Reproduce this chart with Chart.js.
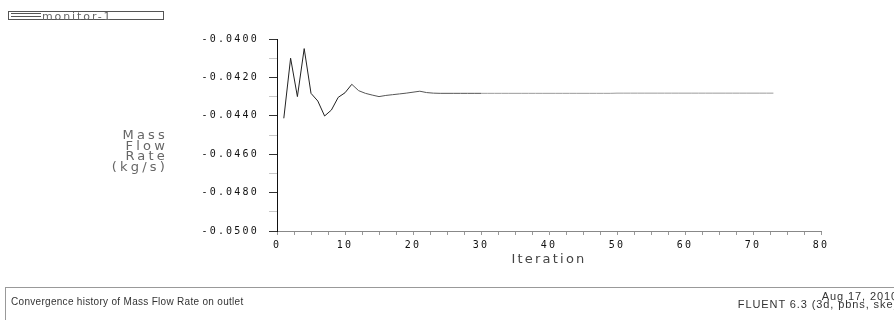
<!DOCTYPE html>
<html>
<head>
<meta charset="utf-8">
<script src="https://cdn.jsdelivr.net/npm/chart.js@4"></script>
<style>
  html, body { margin: 0; padding: 0; background: #fff; overflow: hidden; }
  #wrap { position: relative; width: 894px; height: 320px; font-family: 'DejaVu Sans', sans-serif; }
  #chart { position: absolute; left: 0; top: 0; }
  .legend { position: absolute; left: 8px; top: 11px; width: 154px; height: 7px; border: 1px solid #555; }
  .legend .dbl { position: absolute; left: 2px; top: 1px; width: 30px; height: 2px; border-top: 1px solid #555; border-bottom: 1px solid #555; }
  .legend .txt { position: absolute; left: 33px; top: -1px; font-size: 11px; line-height: 11px; color: #666; letter-spacing: 1.9px; white-space: nowrap; }
  .ytitle { position: absolute; right: 726px; top: 130px; text-align: right; font-size: 13px; line-height: 10.5px; color: #666; letter-spacing: 3.2px; }
  .footer { position: absolute; left: 5px; top: 287px; width: 900px; height: 40px; border-top: 1px solid #999; border-left: 1px solid #999; }
  .footer .left { position: absolute; left: 5px; top: 8px; font-family: 'Liberation Sans', sans-serif; font-size: 10px; color: #333; letter-spacing: 0.3px; white-space: nowrap; }
  .footer .right { position: absolute; right: 8px; top: 4px; text-align: right; font-family: 'Liberation Sans', sans-serif; font-size: 11px; line-height: 8px; color: #333; letter-spacing: 0.9px; white-space: nowrap; }
</style>
</head>
<body>
<div id="wrap">
  <canvas id="chart" width="894" height="320"></canvas>
  <div class="legend"><span class="dbl"></span><span class="txt">monitor-1</span></div>
  <div class="ytitle">Mass<br>Flow<br>Rate<br>(kg/s)</div>
  <div class="footer">
    <div class="left">Convergence history of Mass Flow Rate on outlet</div>
    <div class="right">Aug 17, 2010<br>FLUENT 6.3 (3d, pbns, ske)</div>
  </div>
</div>
<script>
const iterations = [1, 2, 3, 4, 5, 6, 7, 8, 9, 10,
  11, 12, 13, 14, 15, 16, 17, 18, 19, 20,
  21, 22, 23, 24, 25, 26, 27, 28, 29, 30,
  31, 32, 33, 34, 35, 36, 37, 38, 39, 40,
  41, 42, 43, 44, 45, 46, 47, 48, 49, 50,
  51, 52, 53, 54, 55, 56, 57, 58, 59, 60,
  61, 62, 63, 64, 65, 66, 67, 68, 69, 70,
  71, 72, 73];
const massFlow = [-0.04413, -0.04100, -0.04300, -0.04050, -0.04283, -0.04323, -0.04401, -0.04370, -0.04304, -0.04280,
  -0.04236, -0.04269, -0.04283, -0.04292, -0.04300, -0.04294, -0.04290, -0.04286, -0.04282, -0.04277,
  -0.04272, -0.04279, -0.04282, -0.04283, -0.04283, -0.04283, -0.04283, -0.04283, -0.04283, -0.04283,
  -0.04283, -0.04283, -0.04283, -0.04283, -0.04283, -0.04283, -0.04283, -0.04283, -0.04283, -0.04283,
  -0.04283, -0.04283, -0.04283, -0.04283, -0.04283, -0.04283, -0.04283, -0.04283, -0.04283, -0.04282,
  -0.04282, -0.04282, -0.04282, -0.04282, -0.04282, -0.04282, -0.04282, -0.04282, -0.04282, -0.04282,
  -0.04282, -0.04282, -0.04282, -0.04282, -0.04282, -0.04282, -0.04282, -0.04282, -0.04282, -0.04282,
  -0.04282, -0.04282, -0.04282];
const xTicks = [0, 10, 20, 30, 40, 50, 60, 70, 80];
const yTicks = [-0.0500, -0.0480, -0.0460, -0.0440, -0.0420, -0.0400];

const points = iterations.map((it, i) => ({ x: it, y: massFlow[i] }));

// wide Fluent-like glyph spacing for the tick labels
const spacing = {
  id: 'spacing',
  beforeDraw(c) { c.ctx.letterSpacing = '2.2px'; },
  afterDraw(c) { c.ctx.letterSpacing = '0px'; }
};

const isMajorY = v => yTicks.some(t => Math.abs(t - v) < 1e-7);

new Chart(document.getElementById('chart').getContext('2d'), {
  type: 'line',
  data: {
    datasets: [{
      label: 'monitor-1',
      data: points,
      borderWidth: 1,
      pointRadius: 0,
      tension: 0,
      borderColor: '#555',
      segment: {
        borderColor: ctx => ctx.p0DataIndex < 10 ? '#222' : (ctx.p0DataIndex < 29 ? '#555' : '#9a9a9a')
      }
    }]
  },
  plugins: [spacing],
  options: {
    responsive: false,
    animation: false,
    layout: { padding: { left: 180, right: 73, top: 39, bottom: 49 } },
    plugins: { legend: { display: false }, tooltip: { enabled: false } },
    scales: {
      x: {
        type: 'linear',
        min: 0,
        max: 80,
        afterFit: s => { s.height = 40; },
        afterBuildTicks: s => { s.ticks = []; for (let v = 0; v <= 80; v += 2.5) s.ticks.push({ value: v }); },
        border: { color: '#888', width: 1 },
        grid: { drawOnChartArea: false, tickLength: 4, tickColor: '#999' },
        ticks: {
          autoSkip: false,
          maxRotation: 0,
          padding: 4,
          color: '#111',
          font: { family: 'DejaVu Sans Mono', size: 10 },
          callback: v => xTicks.includes(v) ? String(v) : ''
        },
        title: {
          display: true,
          text: 'Iteration',
          color: '#444',
          font: { family: 'DejaVu Sans', size: 13 },
          padding: { top: 0, bottom: 4 }
        }
      },
      y: {
        type: 'linear',
        min: -0.05,
        max: -0.04,
        afterFit: s => { s.width = 97; },
        afterBuildTicks: s => { s.ticks = []; for (let k = 0; k <= 10; k++) s.ticks.push({ value: -0.05 + k * 0.001 }); },
        border: { color: '#111', width: 1 },
        grid: {
          drawOnChartArea: false,
          tickLength: 8,
          tickColor: c => isMajorY(c.tick.value) ? '#333' : '#c8c8c8'
        },
        ticks: {
          autoSkip: false,
          padding: 10,
          color: '#111',
          font: { family: 'DejaVu Sans Mono', size: 10 },
          callback: v => isMajorY(v) ? v.toFixed(4) : ''
        }
      }
    }
  }
});
</script>
</body>
</html>
